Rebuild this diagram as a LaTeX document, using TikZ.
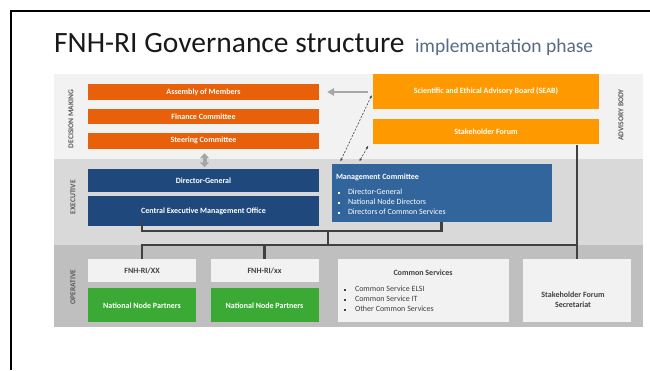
\documentclass[tikz,border=0pt]{standalone}
\usepackage{fontspec}
\setmainfont{Carlito}
\usetikzlibrary{positioning}
\usetikzlibrary{arrows.meta}
\definecolor{decorange}{HTML}{E8600A}
\definecolor{advorange}{HTML}{FF9900}
\definecolor{exeblue}{HTML}{1F497D}
\definecolor{mcblue}{HTML}{31659C}
\definecolor{npgreen}{HTML}{3AAA35}
\definecolor{opgrey}{HTML}{F2F2F2}
\definecolor{bandlight}{HTML}{F2F2F2}
\definecolor{bandmid}{HTML}{D9D9D9}
\definecolor{banddark}{HTML}{BFBFBF}
\definecolor{txtgrey}{HTML}{404040}
\definecolor{tagcol}{HTML}{595959}
\definecolor{conncol}{HTML}{404040}
\definecolor{arrgrey}{HTML}{A6A6A6}
\definecolor{phasecol}{HTML}{596A83}
\newcommand{\sqbul}{\rule[1pt]{2pt}{2pt}}

\begin{document}
\begin{tikzpicture}[x=1pt,y=-1pt,
  tag/.style={rotate=90,inner sep=0pt,text=tagcol,font=\fontsize{7.5}{8}\selectfont\bfseries},
  box/.style={inner sep=0pt,font=\fontsize{8}{9}\selectfont\bfseries,text=white},
  decbox/.style={box,fill=decorange,minimum width=231pt,minimum height=15.5pt},
  advbox/.style={box,fill=advorange,minimum width=226pt},
  exebox/.style={box,fill=exeblue,minimum width=231pt},
  opbox/.style={box,fill=opgrey,text=txtgrey,minimum width=108pt},
  npbox/.style={box,fill=npgreen,minimum width=108pt,minimum height=34pt},
  list/.style={inner sep=0pt,anchor=north west,align=left,font=\fontsize{8}{10}\selectfont},
  conn/.style={draw=conncol,line width=2.2pt},
  fat arrow/.style={draw=arrgrey,line width=2.8pt,-{Triangle[length=7pt,width=7.5pt]}},
  dash arrow/.style={draw=txtgrey,dash pattern=on 2pt off 1.5pt,line width=0.6pt,{Latex[length=3pt,width=2.5pt]}-{Latex[length=3pt,width=2.5pt]}}]
  \useasboundingbox (0,0) rectangle (650,370);
  %frame and title
  \draw[line width=2pt] (650,11) -- (10.5,11) -- (10.5,370);
  \node[inner sep=0pt,anchor=base west,text=black!90,font=\fontsize{29.5}{31}\selectfont] (ttl) at (54,52) {FNH-RI Governance structure};
  \node[inner sep=0pt,anchor=base west,text=phasecol,font=\fontsize{19.5}{21}\selectfont] (ph) at ([xshift=10pt]ttl.base east) {implementation phase};

  %bands
  \fill[bandlight] (54,74) rectangle (643,159);
  \fill[bandmid] (54,159) rectangle (643,245);
  \fill[banddark] (54,245) rectangle (643,327);
  \node[tag] (dm) at (71,119) {DECISION MAKING};
  \node[tag] (ex) at (73,197) {EXECUTIVE};
  \node[tag] (op) at (73,287) {OPERATIVE};
  \node[tag] (ab) at (621,115) {ADVISORY BODY};

  %decision making
  \node[decbox] (am) at (203.5,92) {Assembly of Members};
  \node[decbox,below=8.5pt of am] (fc) {Finance Committee};
  \node[decbox,below=8.5pt of fc] (sc) {Steering Committee};
  %advisory body
  \node[advbox,minimum height=35pt] (seab) at (486,91.5) {Scientific and Ethical Advisory Board (SEAB)};
  \node[advbox,minimum height=25pt,below=10pt of seab] (sf) {Stakeholder Forum};

  %executive
  \node[exebox,minimum height=23pt] (dg) at (203.5,180.5) {Director-General};
  \node[exebox,minimum height=30pt,below=4pt of dg] (cemo) {Central Executive Management Office};
  \node[box,fill=mcblue,minimum width=220pt,minimum height=58pt] (mc) at (441.5,193) {};
  \node[list,text=white] (mct) at ([xshift=4.5pt,yshift=-10pt]mc.north west) {\textbf{Management Committee}\\[5pt]
    \hspace*{2pt}\sqbul\hspace{8pt}Director-General\\
    \hspace*{2pt}\sqbul\hspace{8pt}National Node Directors\\
    \hspace*{2pt}\sqbul\hspace{8pt}Directors of Common Services};

  %operative
  \node[opbox,minimum height=23pt] (nx1) at (142,270.5) {FNH-RI/XX};
  \node[npbox,below=6pt of nx1] (np1) {National Node Partners};
  \node[opbox,minimum height=23pt] (nx2) at (264.5,270.5) {FNH-RI/xx};
  \node[npbox,below=6pt of nx2] (np2) {National Node Partners};
  \node[box,fill=opgrey,minimum width=171pt,minimum height=63pt] (cs) at (423,290.5) {};
  \node[box,text=txtgrey] (cst) at ([yshift=-14pt]cs.north) {Common Services};
  \node[list,text=txtgrey] (csl) at ([xshift=6.5pt,yshift=-27pt]cs.north west) {\sqbul\hspace{9pt}Common Service ELSI\\
    \sqbul\hspace{9pt}Common Service IT\\
    \sqbul\hspace{9pt}Other Common Services};
  \node[box,fill=opgrey,minimum width=108pt,minimum height=63pt] (sfs) at (577,290.5) {};
  \node[box,text=txtgrey,align=center,font=\fontsize{8}{10}\selectfont\bfseries] (sfst) at ([xshift=-4pt,yshift=-9.5pt]sfs.center) {Stakeholder Forum\\Secretariat};

  %connectors
  \coordinate (exbus) at (328,231);
  \coordinate (opbus) at (328,245);
  \draw[conn] (cemo.south -| nx1.north) ++(0,-7) |- (exbus) -| (mc.south);
  \draw[conn] (exbus) -- (opbus);
  \draw[conn] (nx1.north) |- (opbus) -| (sfs.north);
  \draw[conn] (nx2.north) -- (nx2.north |- opbus);
  \draw[conn] (sf.south -| sfs.north) -- (sfs.north);

  %arrows
  \draw[fat arrow,shorten <=5pt,shorten >=8pt] (seab.west |- am.east) -- (am.east);
  \draw[draw=arrgrey,line width=4pt,{Triangle[length=5pt,width=9pt]}-{Triangle[length=5pt,width=9pt]},shorten <=4.5pt,shorten >=1.5pt] ([xshift=1pt]sc.south) -- ([xshift=1pt]dg.north);
  \draw[dash arrow] ([xshift=9pt,yshift=2.3pt]mc.north west) -- ([xshift=-1pt,yshift=-3.5pt]seab.west);
  \draw[dash arrow] ([xshift=28pt,yshift=2.3pt]mc.north west) -- ([xshift=-4.5pt,yshift=-1pt]sf.south west);
\end{tikzpicture}
\end{document}
